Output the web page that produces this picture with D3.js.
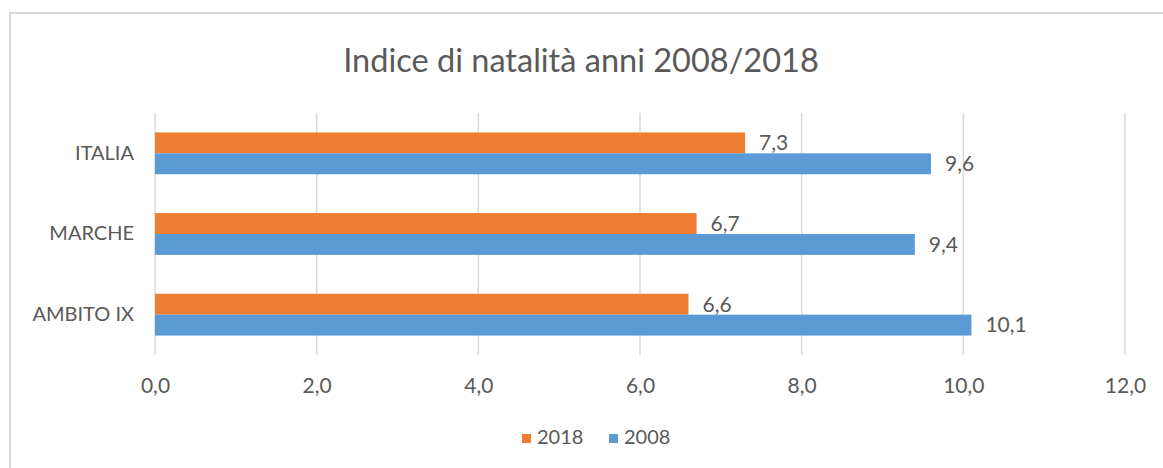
<!DOCTYPE html>
<html>
<head>
<meta charset="utf-8">
<script src="https://cdn.jsdelivr.net/npm/d3@7"></script>
<style>
  html, body { margin: 0; padding: 0; background: #fff; }
  svg { display: block; font-family: Lato, "Open Sans", sans-serif; }
</style>
</head>
<body>
<svg id="chart" width="1163" height="468"></svg>
<script>
const categories = ["ITALIA", "MARCHE", "AMBITO IX"];
const series = ["2018", "2008"];
const values2018 = [7.3, 6.7, 6.6];
const values2008 = [9.6, 9.4, 10.1];
const xTicks = [0, 2, 4, 6, 8, 10, 12];
const title = "Indice di natalità anni 2008/2018";
const colors = { "2018": "#ED7D31", "2008": "#5B9BD5" };

const svg = d3.select("#chart");
const textColor = "#595959";
const fmt = v => d3.format(".1f")(v).replace(".", ",");

// frame
svg.append("path")
  .attr("d", "M10,468 V13 H1163")
  .attr("fill", "none").attr("stroke", "#d9d9d9").attr("stroke-width", 2);

// title
svg.append("text")
  .attr("x", 581).attr("y", 72)
  .attr("text-anchor", "middle")
  .attr("font-size", 32.5).attr("fill", textColor)
  .text(title);

const x = d3.scaleLinear().domain([0, 12]).range([155, 1125]);
const y = d3.scaleBand().domain(categories).range([113, 355]).padding(0);
const sub = d3.scaleBand().domain(series)
  .range([0, y.bandwidth()]).paddingInner(0).paddingOuter(0.93);

// gridlines
svg.append("g").selectAll("line").data(xTicks).join("line")
  .attr("x1", d => x(d)).attr("x2", d => x(d))
  .attr("y1", 113).attr("y2", 355)
  .attr("stroke", "#d9d9d9").attr("stroke-width", 1.5);

// x axis labels
const xAxis = d3.axisBottom(x).tickValues(xTicks).tickFormat(fmt).tickSize(0).tickPadding(0);
const gx = svg.append("g").attr("transform", "translate(0,378)").call(xAxis);
gx.select(".domain").remove();
gx.selectAll("text").attr("font-size", 21).attr("fill", textColor)
  .attr("font-family", "Lato, sans-serif");

// y axis labels
const yAxis = d3.axisLeft(y).tickSize(0).tickPadding(0);
const gy = svg.append("g").attr("transform", "translate(134,0)").call(yAxis);
gy.select(".domain").remove();
gy.selectAll("text").attr("font-size", 20).attr("fill", textColor)
  .attr("font-family", "Lato, sans-serif");

// bars
const rows = categories.map((c, i) => ({ cat: c, vals: [
  { s: "2018", v: values2018[i] }, { s: "2008", v: values2008[i] }
]}));
const g = svg.append("g").selectAll("g").data(rows).join("g")
  .attr("transform", d => `translate(0,${y(d.cat)})`);
g.selectAll("rect").data(d => d.vals).join("rect")
  .attr("x", x(0))
  .attr("y", d => sub(d.s))
  .attr("width", d => x(d.v) - x(0))
  .attr("height", sub.bandwidth())
  .attr("fill", d => colors[d.s]);
g.selectAll("text").data(d => d.vals).join("text")
  .attr("x", d => x(d.v) + 14)
  .attr("y", d => sub(d.s) + sub.bandwidth() / 2 + 2)
  .attr("dominant-baseline", "middle")
  .attr("font-size", 21).attr("fill", textColor)
  .text(d => fmt(d.v));

// legend
const legend = svg.append("g");
const legendItems = [{ s: "2018", x: 522 }, { s: "2008", x: 609 }];
legendItems.forEach(it => {
  legend.append("rect").attr("x", it.x).attr("y", 434).attr("width", 9).attr("height", 9)
    .attr("fill", colors[it.s]);
  legend.append("text").attr("x", it.x + 15).attr("y", 439)
    .attr("dominant-baseline", "middle").attr("font-size", 20).attr("fill", textColor)
    .text(it.s);
});
</script>
</body>
</html>
